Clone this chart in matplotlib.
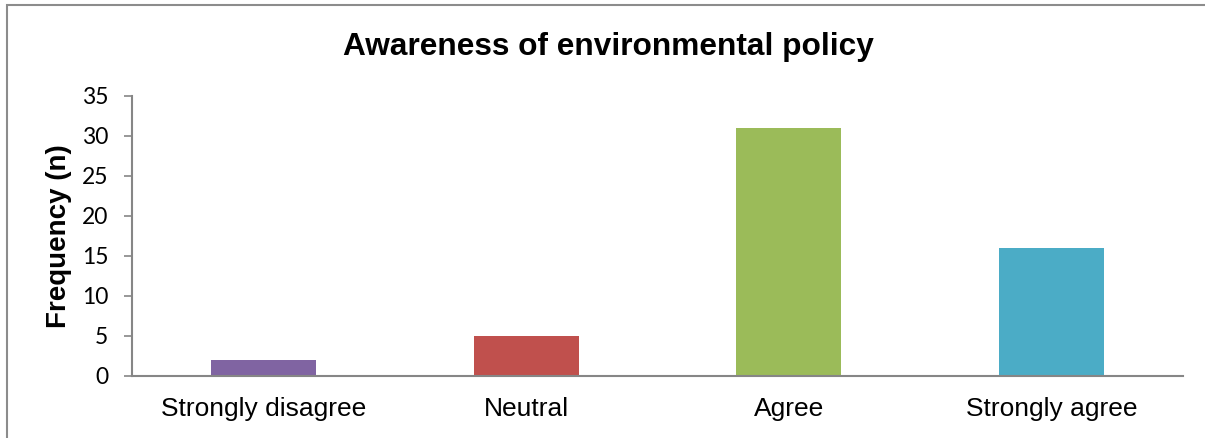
import matplotlib.pyplot as plt
from matplotlib.patches import Rectangle

# 응답 빈도
categories = ["Strongly disagree", "Neutral", "Agree", "Strongly agree"]
counts = [2, 5, 31, 16]
bar_colors = ["#8064A2", "#C0504D", "#9BBB59", "#4BACC6"]
yticks = [0, 5, 10, 15, 20, 25, 30, 35]

W, H = 1205, 438
fig = plt.figure(figsize = (W / 100, H / 100), dpi = 100)

# 차트 바깥 테두리
fig.patches.append(Rectangle((6.5 / W, -0.05), 1.1, 1 - 5 / H + 0.05, transform = fig.transFigure,
                             fill = False, edgecolor = "#8c8c8c", linewidth = 1.5))

ax = fig.add_axes([132 / W, 1 - 376 / H, (1183 - 132) / W, (376 - 96) / H])
x = range(len(categories))
ax.bar(x, counts, width = 0.4, color = bar_colors)

ax.set_xlim(-0.5, len(categories) - 0.5)
ax.set_ylim(0, 35)
ax.set_yticks(yticks)
ax.set_yticklabels([str(v) for v in yticks], fontsize = 16.5, family = "Lato")
ax.set_xticks(list(x))
ax.set_xticklabels(categories, fontsize = 19, family = "Liberation Sans")
ax.tick_params(axis = "x", length = 0, pad = 15)
ax.tick_params(axis = "y", length = 6, width = 1.2, color = "#868686", pad = 11)

for s in ["top", "right"] :
    ax.spines[s].set_visible(False)
for s in ["left", "bottom"] :
    ax.spines[s].set_color("#868686")
    ax.spines[s].set_linewidth(1.5)

ax.set_ylabel("Frequency (n)", fontsize = 20, fontweight = "bold", family = "Liberation Sans")
ax.yaxis.set_label_coords(-0.057, 0.498)
fig.text(0.505, 1 - 55 / H, "Awareness of environmental policy", ha = "center", va = "baseline",
         fontsize = 22.8, fontweight = "bold", family = "Liberation Sans")

plt.savefig("out.png", dpi = 100)
